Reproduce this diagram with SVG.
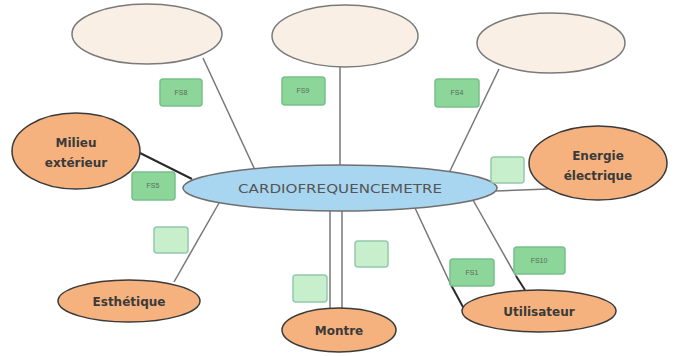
<svg xmlns="http://www.w3.org/2000/svg" width="675" height="356" viewBox="0 0 675 356">
<style>
.top{fill:#f9efe5;stroke:#7a7a7a;stroke-width:1.5}
.ext{fill:#f6b27e;stroke:#3a3a3a;stroke-width:1.5}
.main{fill:#a8d5f0;stroke:#6f6f6f;stroke-width:1.5}
.fs{fill:#8dd69a;stroke:#78c08a;stroke-width:1.5}
.fse{fill:#c8efcb;stroke:#93c9ac;stroke-width:1.5}
.lbl{font-family:"Liberation Sans",Arial,sans-serif;font-size:7px;fill:#5a6a5a;text-anchor:middle}
.t{font-family:"DejaVu Sans","Liberation Sans",sans-serif;font-size:12px;font-weight:bold;fill:#3a3a3a;text-anchor:middle}
.c{stroke:#777;stroke-width:1.5;fill:none}
.d{stroke:#2a2a2a;stroke-width:2;fill:none}
</style>
<rect width="675" height="356" fill="#ffffff"/>
<g id="connectors">
<line class="c" x1="203" y1="58" x2="255" y2="170"/>
<line class="c" x1="340" y1="67" x2="340" y2="166"/>
<line class="c" x1="499" y1="69" x2="449" y2="173"/>
<line class="d" x1="140" y1="153" x2="192" y2="179"/>
<line class="c" x1="495" y1="191" x2="548" y2="189"/>
<line class="c" x1="219" y1="203" x2="174" y2="282"/>
<line class="c" x1="330" y1="210" x2="330" y2="309"/>
<line class="c" x1="342" y1="210" x2="342" y2="309"/>
<line class="c" x1="415" y1="208" x2="450" y2="283"/>
<line class="d" x1="450" y1="283" x2="463" y2="307"/>
<line class="c" x1="473" y1="200" x2="516" y2="276"/>
<line class="d" x1="516" y1="276" x2="525" y2="290"/>
</g>
<g id="n-top1"><ellipse class="top" cx="147" cy="34" rx="75" ry="30"/></g>
<g id="n-top2"><ellipse class="top" cx="345" cy="36" rx="73" ry="31"/></g>
<g id="n-top3"><ellipse class="top" cx="551" cy="43" rx="74" ry="30"/></g>
<g id="n-milieu"><ellipse class="ext" cx="76" cy="151" rx="64" ry="38"/>
<text class="t" x="76" y="147">Milieu</text><text class="t" x="76" y="167">extérieur</text></g>
<g id="n-energie"><ellipse class="ext" cx="598" cy="163" rx="69" ry="37"/>
<text class="t" x="598" y="160">Energie</text><text class="t" x="598" y="180">électrique</text></g>
<g id="n-main"><ellipse class="main" cx="340" cy="188" rx="157" ry="23"/>
<text x="340" y="193" font-family="'DejaVu Sans','Liberation Sans',sans-serif" font-size="13" fill="#555" text-anchor="middle" textLength="204" lengthAdjust="spacingAndGlyphs">CARDIOFREQUENCEMETRE</text></g>
<g id="n-esthetique"><ellipse class="ext" cx="129" cy="301" rx="71" ry="21"/><text class="t" x="129" y="306">Esthétique</text></g>
<g id="n-montre"><ellipse class="ext" cx="339" cy="330" rx="57" ry="22"/><text class="t" x="339" y="335">Montre</text></g>
<g id="n-utilisateur"><ellipse class="ext" cx="539" cy="311" rx="77" ry="21"/><text class="t" x="539" y="316">Utilisateur</text></g>
<g id="fs8"><rect class="fs" x="160" y="79" width="42" height="27" rx="3"/><text class="lbl" x="181" y="95">FS8</text></g>
<g id="fs9"><rect class="fs" x="282" y="77" width="43" height="28" rx="3"/><text class="lbl" x="303" y="93">FS9</text></g>
<g id="fs4"><rect class="fs" x="435" y="79" width="44" height="28" rx="3"/><text class="lbl" x="457" y="95">FS4</text></g>
<g id="fs5"><rect class="fs" x="132" y="172" width="43" height="28" rx="3"/><text class="lbl" x="153" y="188">FS5</text></g>
<g id="fs1"><rect class="fs" x="450" y="259" width="44" height="27" rx="3"/><text class="lbl" x="472" y="275">FS1</text></g>
<g id="fs10"><rect class="fs" x="514" y="247" width="51" height="27" rx="3"/><text class="lbl" x="539" y="263">FS10</text></g>
<g id="box-e1"><rect class="fse" x="491" y="157" width="33" height="26" rx="3"/></g>
<g id="box-e2"><rect class="fse" x="154" y="227" width="34" height="26" rx="3"/></g>
<g id="box-e3"><rect class="fse" x="293" y="275" width="34" height="27" rx="3"/></g>
<g id="box-e4"><rect class="fse" x="355" y="241" width="33" height="26" rx="3"/></g>
</svg>
